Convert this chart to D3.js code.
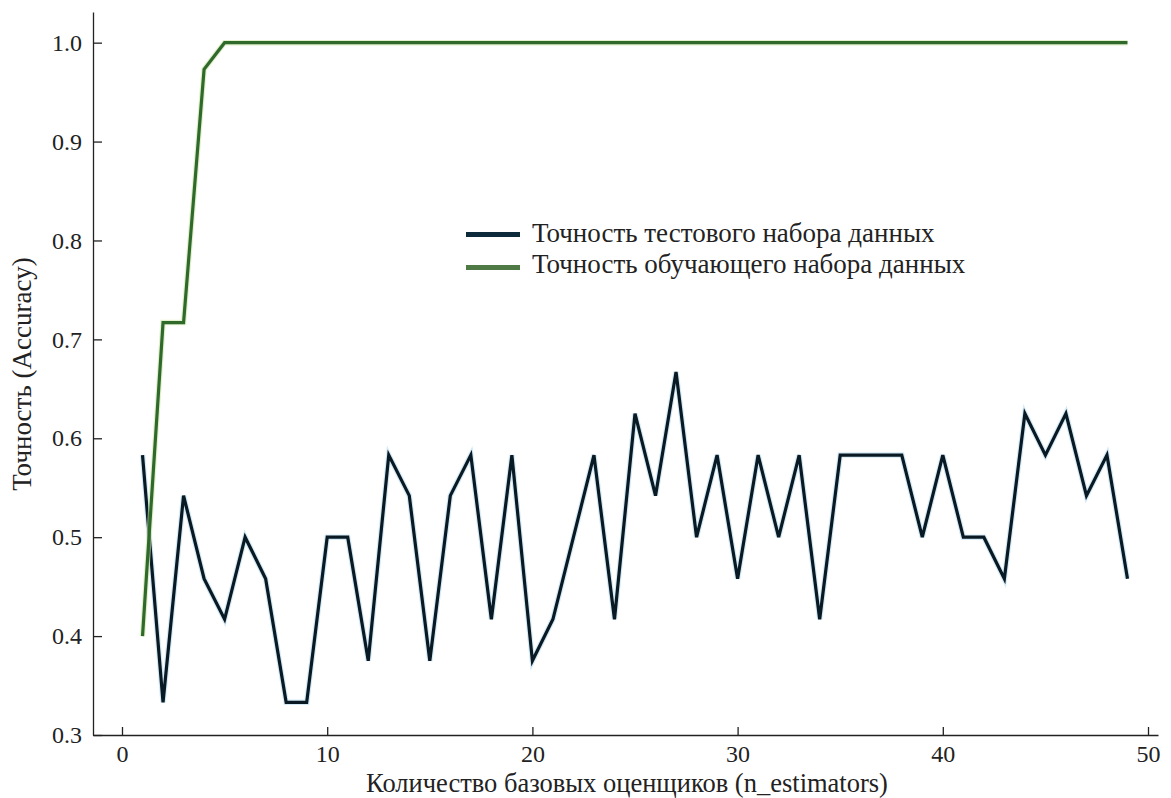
<!DOCTYPE html>
<html>
<head>
<meta charset="utf-8">
<script src="https://cdn.jsdelivr.net/npm/d3@7/dist/d3.min.js"></script>
<style>
  html, body { margin: 0; padding: 0; background: #fff; }
  svg text { font-family: "Liberation Serif", "Times New Roman", "DejaVu Serif", serif; fill: #222; }
</style>
</head>
<body>
<script>
const nEstimators = d3.range(1, 50);
const testAccuracy = [
  0.583, 0.333, 0.542, 0.458, 0.417, 0.500, 0.458, 0.333, 0.333, 0.500,
  0.500, 0.375, 0.583, 0.542, 0.375, 0.542, 0.583, 0.417, 0.583, 0.375,
  0.417, 0.500, 0.583, 0.417, 0.625, 0.542, 0.667, 0.500, 0.583, 0.458,
  0.583, 0.500, 0.583, 0.417, 0.583, 0.583, 0.583, 0.583, 0.500, 0.583,
  0.500, 0.500, 0.458, 0.625, 0.583, 0.625, 0.542, 0.583, 0.458
];
const trainAccuracy = [
  0.400, 0.717, 0.717, 0.973, 1.000, 1.000, 1.000, 1.000, 1.000, 1.000,
  1.000, 1.000, 1.000, 1.000, 1.000, 1.000, 1.000, 1.000, 1.000, 1.000,
  1.000, 1.000, 1.000, 1.000, 1.000, 1.000, 1.000, 1.000, 1.000, 1.000,
  1.000, 1.000, 1.000, 1.000, 1.000, 1.000, 1.000, 1.000, 1.000, 1.000,
  1.000, 1.000, 1.000, 1.000, 1.000, 1.000, 1.000, 1.000, 1.000
];
const xTicks = [0, 10, 20, 30, 40, 50];
const yTicks = [0.3, 0.4, 0.5, 0.6, 0.7, 0.8, 0.9, 1.0];
const seriesNames = ["Точность тестового набора данных", "Точность обучающего набора данных"];
const xLabel = "Количество базовых оценщиков (n_estimators)";
const yLabel = "Точность (Accuracy)";

(function () {
const W = 1171, H = 798;
const mLeft = 93, mRight = 1158, mTop = 12, mBottom = 735;
const serif = '"Liberation Serif", "Times New Roman", serif';

const x = d3.scaleLinear().domain([-1.413, 50.487]).range([mLeft, mRight]);
const y = d3.scaleLinear().domain([0.3, 1.031]).range([mBottom, mTop]);

const svg = d3.select("body").append("svg").attr("width", W).attr("height", H)
  .attr("font-family", serif);

const xAxis = d3.axisBottom(x).tickValues(xTicks).tickFormat(d3.format("d")).tickSizeInner(-8).tickSizeOuter(0).tickPadding(10);
const yAxis = d3.axisLeft(y).tickValues(yTicks).tickFormat(d3.format(".1f")).tickSizeInner(-9).tickSizeOuter(0).tickPadding(11);

const gx = svg.append("g").attr("transform", `translate(0,${mBottom})`).call(xAxis);
const gy = svg.append("g").attr("transform", `translate(${mLeft},0)`).call(yAxis);
[gx, gy].forEach(g => {
  g.attr("font-family", serif);
  g.select(".domain").attr("stroke", "#222").attr("stroke-width", 1.3);
  g.selectAll(".tick line").attr("stroke", "#222").attr("stroke-width", 1.3);
  g.selectAll(".tick text").attr("font-size", 24).attr("fill", "#222")
    .attr("font-family", serif);
});

const testData = nEstimators.map((n, i) => [n, testAccuracy[i]]);
const trainData = nEstimators.map((n, i) => [n, trainAccuracy[i]]);
const line = d3.line().x(d => x(d[0])).y(d => y(d[1]));

svg.append("path").datum(testData).attr("d", line)
  .attr("fill", "none").attr("stroke", "#9fd0ea").attr("stroke-width", 5.5).attr("opacity", 0.45);
svg.append("path").datum(testData).attr("d", line)
  .attr("fill", "none").attr("stroke", "#0a1a24").attr("stroke-width", 3.2);

svg.append("path").datum(trainData).attr("d", line)
  .attr("fill", "none").attr("stroke", "#cfe6a8").attr("stroke-width", 5.5).attr("opacity", 0.6);
svg.append("path").datum(trainData).attr("d", line)
  .attr("fill", "none").attr("stroke", "#2f6a2c").attr("stroke-width", 3.2);

const legendColors = ["#0c2a3a", "#4f7a45"];
const legend = svg.append("g");
seriesNames.forEach((name, i) => {
  const ly = 234.5 + i * 33;
  legend.append("line").attr("x1", 466).attr("x2", 520).attr("y1", ly).attr("y2", ly)
    .attr("stroke", legendColors[i]).attr("stroke-width", 5);
  legend.append("text").attr("x", 532).attr("y", 242 + i * 31)
    .attr("font-size", 27).attr("font-family", serif).text(name);
});

svg.append("text").attr("x", 627).attr("y", 792).attr("text-anchor", "middle")
  .attr("font-size", 26.5).attr("font-family", serif).text(xLabel);
svg.append("text").attr("transform", "translate(31,374) rotate(-90)")
  .attr("text-anchor", "middle").attr("font-size", 27).attr("font-family", serif).text(yLabel);
})();
</script>
</body>
</html>
